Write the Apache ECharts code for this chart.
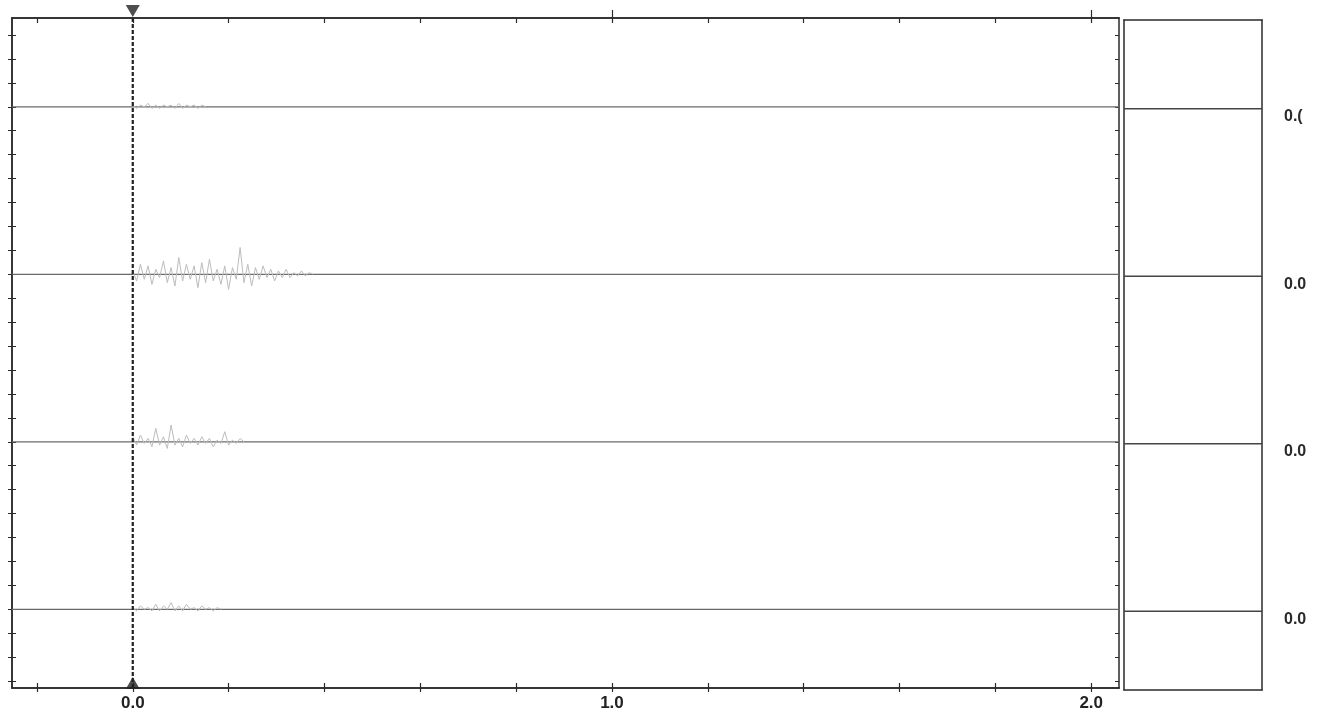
<!DOCTYPE html>
<html>
<head>
<meta charset="utf-8">
<script src="https://cdn.jsdelivr.net/npm/echarts@6/dist/echarts.min.js"></script>
<style>html,body{margin:0;padding:0;background:#fff;}#c{width:1329px;height:725px;}</style>
</head>
<body>
<div id="c"></div>
<script>
// ---- data ----
var xMin = -0.252, xMax = 2.058;
var yMin = -0.47, yMax = 3.53;
var traceLevels = [3, 2, 1, 0];
var xLabelValues = [0, 1, 2];
var xTickValues = [-0.2, 0, 0.2, 0.4, 0.6, 0.8, 1.0, 1.2, 1.4, 1.6, 1.8, 2.0];
var xMajorTicks = [1.0, 2.0];
var rightLabels = ['0.0', '0.0', '0.0', '0.('];   // levels 0..3
var noiseStart = 0.0, noiseStep = 0.008;
var noise1 = [0.01,-0.01,0.01,0.00,0.02,-0.01,0.01,-0.01,0.01,0.00,0.01,-0.01,0.02,-0.01,0.01,0.00,0.01,-0.01,0.01,0.00];
var noise2 = [0.02,-0.04,0.06,-0.03,0.05,-0.06,0.03,-0.02,0.08,-0.05,0.04,-0.07,0.10,-0.04,0.06,-0.03,0.05,-0.08,0.07,-0.05,0.09,-0.04,0.03,-0.06,0.05,-0.09,0.04,-0.03,0.16,-0.05,0.06,-0.07,0.04,-0.03,0.05,-0.02,0.03,-0.04,0.02,-0.02,0.03,-0.02,0.01,-0.01,0.02,-0.01,0.01,0.00];
var noise3 = [0.03,-0.02,0.04,-0.01,0.02,-0.03,0.08,-0.02,0.03,-0.04,0.10,-0.02,0.02,-0.03,0.04,-0.01,0.02,-0.02,0.03,-0.01,0.02,-0.03,0.01,-0.01,0.06,-0.02,0.01,-0.01,0.02,0.00];
var noise4 = [0.01,-0.01,0.02,0.00,0.01,-0.01,0.03,-0.01,0.02,0.00,0.04,-0.01,0.02,-0.01,0.03,0.00,0.01,-0.01,0.02,0.00,0.01,-0.01,0.01,0.00];
var noiseSets = [noise1, noise2, noise3, noise4];

// ---- build ----
var yTicks = [];
for (var k = -3; k <= 25; k++) { var v = k / 7; if (v >= yMin && v <= yMax) yTicks.push(v); }

var lineCol = '#2a2a2a';
var traceCol = '#6a6a6a';
function xAx(pos, inside, len, vals, lbl) {
  return {
    type: 'value', gridIndex: 0, position: pos, min: xMin, max: xMax,
    axisLine: { show: true, onZero: false, lineStyle: { color: lineCol, width: 1.5 } },
    axisTick: { show: true, inside: inside, length: len, customValues: vals, lineStyle: { color: lineCol, width: 1.2 } },
    axisLabel: lbl ? { show: true, customValues: xLabelValues, formatter: function (v) { return v.toFixed(1); },
      fontFamily: 'Liberation Sans', fontSize: 17, fontWeight: 'bold', color: '#222', margin: 7 } : { show: false },
    splitLine: { show: false }
  };
}
function yAx(grid, pos, inside, len, tickVals, labels) {
  return {
    type: 'value', gridIndex: grid, position: pos, min: yMin, max: yMax,
    axisLine: { show: true, onZero: false, lineStyle: { color: lineCol, width: 1.5 } },
    axisTick: tickVals ? { show: true, inside: inside, length: len, customValues: tickVals, lineStyle: { color: lineCol, width: 1 } } : { show: false },
    axisLabel: labels ? { show: true, customValues: [0, 1, 2, 3], formatter: function (v) { return labels[Math.round(v)]; },
      fontFamily: 'Liberation Sans', fontSize: 16, fontWeight: 'bold', color: '#2a2a2a', margin: 22, verticalAlign: 'top' } : { show: false },
    splitLine: { show: false }
  };
}

var series = [];
traceLevels.forEach(function (L) {
  series.push({ type: 'line', xAxisIndex: 0, yAxisIndex: 0, symbol: 'none', silent: true,
    data: [[xMin, L], [xMax, L]], lineStyle: { color: traceCol, width: 1.2 } });
  series.push({ type: 'line', xAxisIndex: 4, yAxisIndex: 3, symbol: 'none', silent: true,
    data: [[0, L], [1, L]], lineStyle: { color: '#444', width: 1.4 } });
});
noiseSets.forEach(function (arr, i) {
  var L = traceLevels[i];
  series.push({ type: 'line', xAxisIndex: 0, yAxisIndex: 0, symbol: 'none', silent: true,
    data: arr.map(function (d, j) { return [noiseStart + j * noiseStep, L + d]; }),
    lineStyle: { color: '#bdbdbd', width: 1 } });
});
series.push({ type: 'line', xAxisIndex: 0, yAxisIndex: 0, symbol: 'none', silent: true,
  data: [[0, yMin], [0, yMax]], lineStyle: { color: '#222', width: 2.2, type: [4, 2] } });
series.push({ type: 'scatter', xAxisIndex: 0, yAxisIndex: 0, silent: true, clip: false,
  data: [[0, yMax]], symbol: 'triangle', symbolSize: [14, 12], symbolRotate: 180, symbolOffset: [0, -7],
  itemStyle: { color: '#222' } });
series.push({ type: 'scatter', xAxisIndex: 0, yAxisIndex: 0, silent: true, clip: false,
  data: [[0, yMin]], symbol: 'triangle', symbolSize: [14, 12], symbolOffset: [0, -5],
  itemStyle: { color: '#222' } });

var option = {
  animation: false,
  backgroundColor: '#ffffff',
  grid: [
    { left: 12, top: 18, width: 1107, height: 670 },
    { left: 1124, top: 20, width: 138, height: 670 }
  ],
  xAxis: [
    xAx('bottom', true, 5, xTickValues, true),
    xAx('bottom', false, 4, xTickValues, false),
    xAx('top', true, 5, xTickValues, false),
    xAx('top', false, 8, xMajorTicks, false),
    { type: 'value', gridIndex: 1, position: 'bottom', min: 0, max: 1,
      axisLine: { show: true, onZero: false, lineStyle: { color: lineCol, width: 1.5 } },
      axisTick: { show: false }, axisLabel: { show: false }, splitLine: { show: false } },
    { type: 'value', gridIndex: 1, position: 'top', min: 0, max: 1,
      axisLine: { show: true, onZero: false, lineStyle: { color: lineCol, width: 1.5 } },
      axisTick: { show: false }, axisLabel: { show: false }, splitLine: { show: false } }
  ],
  yAxis: [
    yAx(0, 'left', true, 4, yTicks, null),
    yAx(0, 'left', false, 4, yTicks, null),
    yAx(0, 'right', true, 4, yTicks, null),
    yAx(1, 'left', false, 0, null, null),
    yAx(1, 'right', false, 0, null, rightLabels)
  ],
  series: series
};
echarts.init(document.getElementById('c'), null, { renderer: 'canvas' }).setOption(option);
</script>
</body>
</html>
